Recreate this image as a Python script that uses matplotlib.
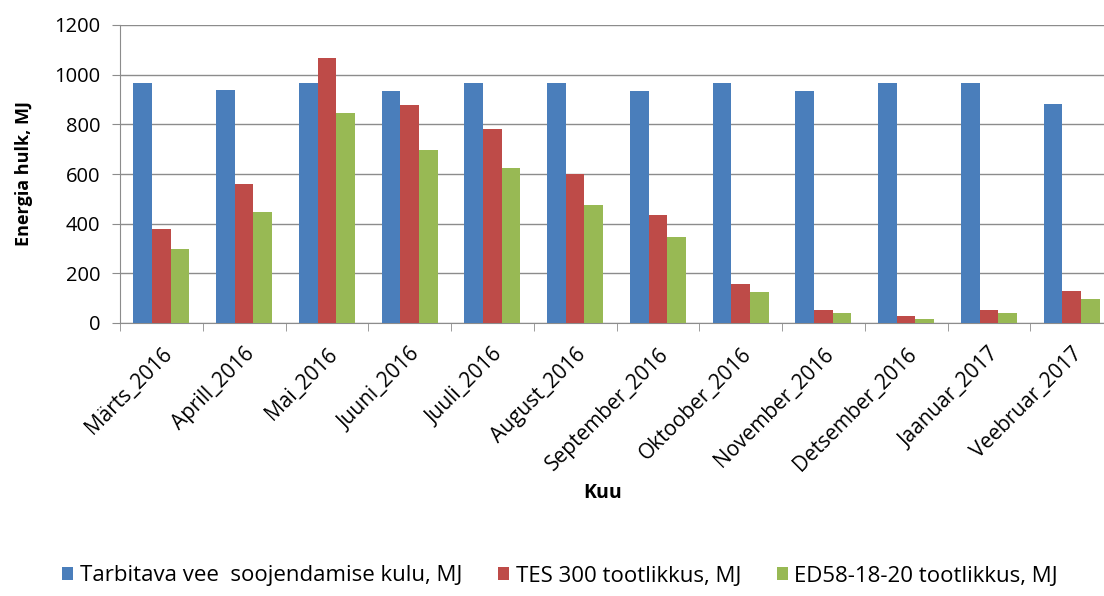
import numpy as np
import matplotlib
matplotlib.use("Agg")
import matplotlib.pyplot as plt
from matplotlib.ticker import FixedLocator, NullFormatter

plt.rcParams['font.family'] = ['Open Sans', 'DejaVu Sans']

months = ['Märts_2016', 'Aprill_2016', 'Mai_2016', 'Juuni_2016', 'Juuli_2016',
          'August_2016', 'September_2016', 'Oktoober_2016', 'November_2016',
          'Detsember_2016', 'Jaanuar_2017', 'Veebruar_2017']
kulu = [968, 938, 968, 936, 968, 968, 936, 965, 936, 968, 968, 882]
tes300 = [378, 560, 1066, 877, 780, 599, 436, 158, 53, 29, 53, 127]
ed58 = [298, 446, 847, 697, 626, 476, 346, 123, 40, 17, 40, 98]

series = [
    ('Tarbitava vee  soojendamise kulu, MJ', kulu, '#4A7EBB'),
    ('TES 300 tootlikkus, MJ', tes300, '#BE4B48'),
    ('ED58-18-20 tootlikkus, MJ', ed58, '#98B954'),
]

fig = plt.figure(figsize=(11.04, 5.96), dpi=100)
ax = fig.add_axes([120 / 1104, 1 - 323 / 596, 993 / 1104, 298 / 596])

x = np.arange(len(months))
w = 0.226
for i, (name, vals, col) in enumerate(series):
    ax.bar(x + (i - 1) * w, vals, w, color=col, label=name, zorder=3)

ax.set_ylim(0, 1200)
ax.set_xlim(-0.5, len(months) - 0.5)
ax.set_yticks(range(0, 1201, 200))
ax.yaxis.grid(True, color='#8c8c8c', linewidth=1.0, zorder=0)
ax.tick_params(axis='y', labelsize=14.5, length=6, color='#8c8c8c', pad=8)

# category labels at centres, tick marks at group boundaries
ax.set_xticks(x)
ax.set_xticklabels(months, rotation=45, ha='right', va='top',
                   rotation_mode='anchor', fontsize=15)
ax.tick_params(axis='x', which='major', length=0, pad=15)
ax.xaxis.set_minor_locator(FixedLocator(np.arange(-0.5, len(months), 1.0)))
ax.xaxis.set_minor_formatter(NullFormatter())
ax.tick_params(axis='x', which='minor', length=6, color='#8c8c8c')

for s in ['top', 'right']:
    ax.spines[s].set_visible(False)
for s in ['left', 'bottom']:
    ax.spines[s].set_color('#8c8c8c')

fig.text(24 / 1104, 1 - 174 / 596, 'Energia hulk, MJ', fontsize=13, fontweight='bold',
         rotation=90, ha='center', va='center')
fig.text(603 / 1104, 1 - 493 / 596, 'Kuu', fontsize=14, fontweight='bold',
         ha='center', va='center')

handles, labels = ax.get_legend_handles_labels()
fig.legend(handles, labels, loc='center', bbox_to_anchor=(560 / 1104, 1 - 576 / 596),
           ncol=3, frameon=False, fontsize=16, handlelength=0.5, handleheight=0.5,
           handletextpad=0.3, columnspacing=1.6)

fig.savefig('out.png', dpi=100)
